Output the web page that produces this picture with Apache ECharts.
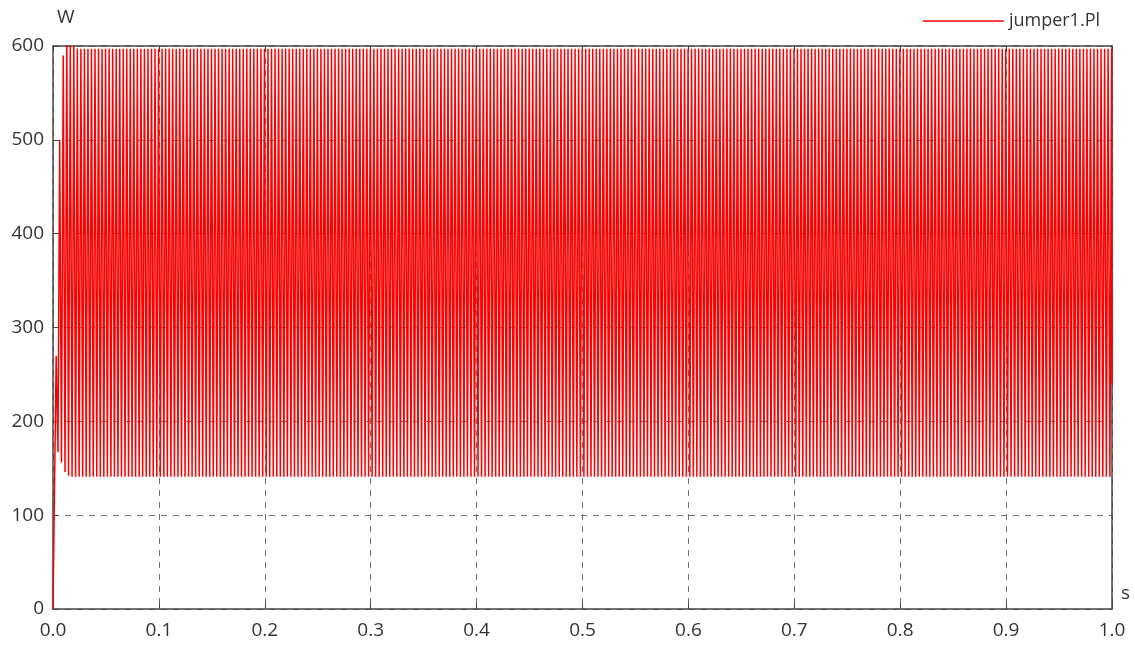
<!DOCTYPE html>
<html>
<head>
<meta charset="utf-8">
<script src="https://cdn.jsdelivr.net/npm/echarts@6/dist/echarts.min.js"></script>
<style>
html,body{margin:0;padding:0;background:#fff;}
#chart{width:1135px;height:650px;}
</style>
</head>
<body>
<div id="chart"></div>
<script>
// ---- data ----
const seriesName = 'jumper1.Pl';
const xTickLabels = ['0.0','0.1','0.2','0.3','0.4','0.5','0.6','0.7','0.8','0.9','1.0'];
const yTickLabels = ['0','100','200','300','400','500','600'];
const startPoint = [0, 0];                       // [s, W]
const ripplePeriod = 1 / 300;                    // s, counted from stripes
const firstPeakTime = 0.003;                     // s
const transientPeaks = [270, 500, 590, 610, 606, 600];   // W
const transientTroughs = [167, 156, 146, 142];           // W
const steadyPeak = 597;                          // W
const steadyTrough = 141;                        // W
const endPoint = [1.0, 240];                     // [s, W]

// build the series from the read values
const data = [startPoint];
for (let k = 0; ; k++) {
  const tp = firstPeakTime + k * ripplePeriod;
  if (tp > 1) break;
  data.push([tp, k < transientPeaks.length ? transientPeaks[k] : steadyPeak]);
  const tt = tp + ripplePeriod / 2;
  if (tt > 1) break;
  data.push([tt, k < transientTroughs.length ? transientTroughs[k] : steadyTrough]);
}
data.push(endPoint);

const textColor = '#333';
const fontFam = '"Open Sans", "Noto Sans", sans-serif';
const axisColor = '#444';

const chart = echarts.init(document.getElementById('chart'), null, {renderer: 'canvas'});
chart.setOption({
  animation: false,
  backgroundColor: '#fff',
  grid: {left: 53, right: 23, top: 46, bottom: 41, containLabel: false},
  legend: {
    data: [{name: seriesName, icon: 'rect'}],
    right: 30, top: 7,
    itemWidth: 81, itemHeight: 1.5, itemGap: 10,
    textStyle: {color: textColor, fontSize: 18, fontFamily: fontFam}
  },
  graphic: [
    {type: 'text', left: 57, top: 8, style: {text: 'W', fill: textColor, fontSize: 19, fontFamily: fontFam}},
    {type: 'text', left: 1121, top: 584, style: {text: 's', fill: textColor, fontSize: 19, fontFamily: fontFam}}
  ],
  xAxis: [{
    type: 'value', min: 0, max: 1, interval: 0.1,
    axisLine: {show: true, onZero: false, lineStyle: {color: axisColor, width: 1.5}},
    axisTick: {show: true, inside: true, length: 6, lineStyle: {color: axisColor}},
    axisLabel: {color: textColor, fontSize: 19, fontFamily: fontFam, margin: 12,
      formatter: v => xTickLabels[Math.round(v * 10)]},
    splitLine: {show: true, lineStyle: {color: '#707070', type: [6, 6], width: 1}}
  }, {
    type: 'value', position: 'top', min: 0, max: 1, interval: 0.1,
    axisLine: {show: true, onZero: false, lineStyle: {color: axisColor, width: 1.5}},
    axisTick: {show: true, inside: true, length: 6, lineStyle: {color: axisColor}},
    axisLabel: {show: false}, splitLine: {show: false}
  }],
  yAxis: [{
    type: 'value', min: 0, max: 600, interval: 100,
    axisLine: {show: true, onZero: false, lineStyle: {color: axisColor, width: 1.5}},
    axisTick: {show: true, inside: true, length: 6, lineStyle: {color: axisColor}},
    axisLabel: {color: textColor, fontSize: 19, fontFamily: fontFam, margin: 9,
      formatter: v => yTickLabels[Math.round(v / 100)]},
    splitLine: {show: true, lineStyle: {color: '#707070', type: [6, 6], width: 1}}
  }, {
    type: 'value', position: 'right', min: 0, max: 600, interval: 100,
    axisLine: {show: true, onZero: false, lineStyle: {color: axisColor, width: 1.5}},
    axisTick: {show: false}, axisLabel: {show: false}, splitLine: {show: false}
  }],
  series: [{
    name: seriesName, type: 'line', data: data,
    xAxisIndex: 0, yAxisIndex: 0,
    showSymbol: false, symbol: 'none', sampling: null,
    lineStyle: {color: '#ff0000', width: 1.5},
    itemStyle: {color: '#ff0000'},
    clip: true
  }]
});
</script>
</body>
</html>
